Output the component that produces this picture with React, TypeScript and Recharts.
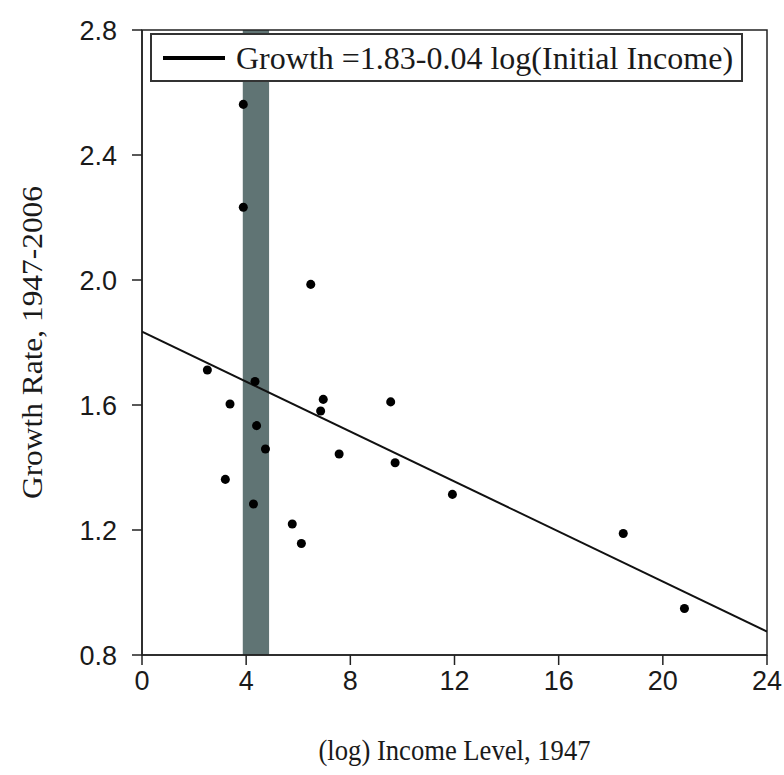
import React from "react";
import {
  ComposedChart,
  Scatter,
  XAxis,
  YAxis,
  ZAxis,
  ReferenceArea,
  Legend,
  Label,
} from "recharts";

// scatter: (log) income level in 1947 vs growth rate 1947-2006
const incomeLevel = [2.51, 4.34, 3.38, 6.96, 6.86, 9.55, 4.4, 4.74, 7.57, 9.72, 3.2, 4.28, 5.77, 6.12, 6.48, 11.92, 3.89, 3.89, 18.48, 20.83];
const growthRate = [1.712, 1.675, 1.603, 1.618, 1.581, 1.61, 1.534, 1.459, 1.443, 1.415, 1.362, 1.283, 1.219, 1.157, 1.986, 1.314, 2.562, 2.233, 1.189, 0.949];

// fitted line end points
const fitX = [0, 24];
const fitY = [1.835, 0.875];

// shaded band
const bandX = [3.87, 4.88];

const xTicks = [0, 4, 8, 12, 16, 20, 24];
const yTicks = [0.8, 1.2, 1.6, 2.0, 2.4, 2.8];

const legendLabel = "Growth =1.83-0.04 log(Initial Income)";
const xTitle = "(log) Income Level, 1947";
const yTitle = "Growth Rate, 1947-2006";

const points = incomeLevel.map((x, i) => ({ x, y: growthRate[i] }));
const fitLine = fitX.map((x, i) => ({ x, y: fitY[i] }));

const SERIF = "'Liberation Serif', 'DejaVu Serif', serif";
const SANS = "'Liberation Sans', Arial, sans-serif";
const INK = "#1a1a1a";

function LegendBox() {
  return (
    <div
      style={{
        width: 593,
        height: 49,
        boxSizing: "border-box",
        border: "2px solid #333",
        background: "#fff",
        display: "flex",
        alignItems: "center",
      }}
    >
      <span style={{ display: "inline-block", width: 62, height: 4, background: "#000", marginLeft: 11 }} />
      <span style={{ fontFamily: SERIF, fontSize: 32, color: INK, marginLeft: 11, whiteSpace: "nowrap", lineHeight: 1 }}>
        {legendLabel}
      </span>
    </div>
  );
}

export default function App() {
  return (
    <div style={{ position: "absolute", left: 0, top: 0, background: "#fff" }}>
      <ComposedChart width={784} height={775} margin={{ top: 30, right: 17, bottom: 0, left: 0 }}>
        <XAxis
          type="number"
          dataKey="x"
          domain={[0, 24]}
          ticks={xTicks}
          allowDataOverflow
          height={120}
          tickSize={10}
          tickMargin={6}
          stroke="#222"
          strokeWidth={1.5}
          tick={{ fill: INK, fontFamily: SANS, fontSize: 27 }}
        >
          <Label
            content={({ viewBox }: any) => (
              <text
                x={viewBox.x + viewBox.width / 2}
                y={viewBox.y + 105}
                textAnchor="middle"
                fontFamily={SERIF}
                fontSize={30}
                textLength={272}
                lengthAdjust="spacingAndGlyphs"
                fill={INK}
              >
                {xTitle}
              </text>
            )}
          />
        </XAxis>
        <YAxis
          type="number"
          dataKey="y"
          domain={[0.8, 2.8]}
          ticks={yTicks}
          allowDataOverflow
          width={142}
          tickSize={10}
          tickMargin={15}
          stroke="#222"
          strokeWidth={1.5}
          tickFormatter={(v: number) => v.toFixed(1)}
          tick={{ fill: INK, fontFamily: SANS, fontSize: 27 }}
        >
          <Label
            content={({ viewBox }: any) => {
              const cx = 42;
              const cy = viewBox.y + viewBox.height / 2;
              return (
                <text
                  x={cx}
                  y={cy}
                  textAnchor="middle"
                  transform={`rotate(-90, ${cx}, ${cy})`}
                  fontFamily={SERIF}
                  fontSize={30}
                  textLength={313}
                  lengthAdjust="spacingAndGlyphs"
                  fill={INK}
                >
                  {yTitle}
                </text>
              );
            }}
          />
        </YAxis>
        <ZAxis range={[85, 85]} />
        <ReferenceArea x1={bandX[0]} x2={bandX[1]} y1={0.8} y2={2.8} fill="#607474" fillOpacity={1} stroke="none" />
        <ReferenceArea x1={0} x2={24} y1={0.8} y2={2.8} fill="none" stroke="#222" strokeWidth={1.5} />
        <Scatter
          data={fitLine}
          line={{ stroke: "#111", strokeWidth: 2 }}
          shape={() => <g />}
          isAnimationActive={false}
          legendType="none"
        />
        <Scatter data={points} fill="#000" shape="circle" isAnimationActive={false} />
        <Legend
          layout="horizontal"
          verticalAlign="middle"
          align="center"
          wrapperStyle={{ left: 150, top: 33, width: 593, height: 49 }}
          content={() => <LegendBox />}
        />
      </ComposedChart>
    </div>
  );
}
